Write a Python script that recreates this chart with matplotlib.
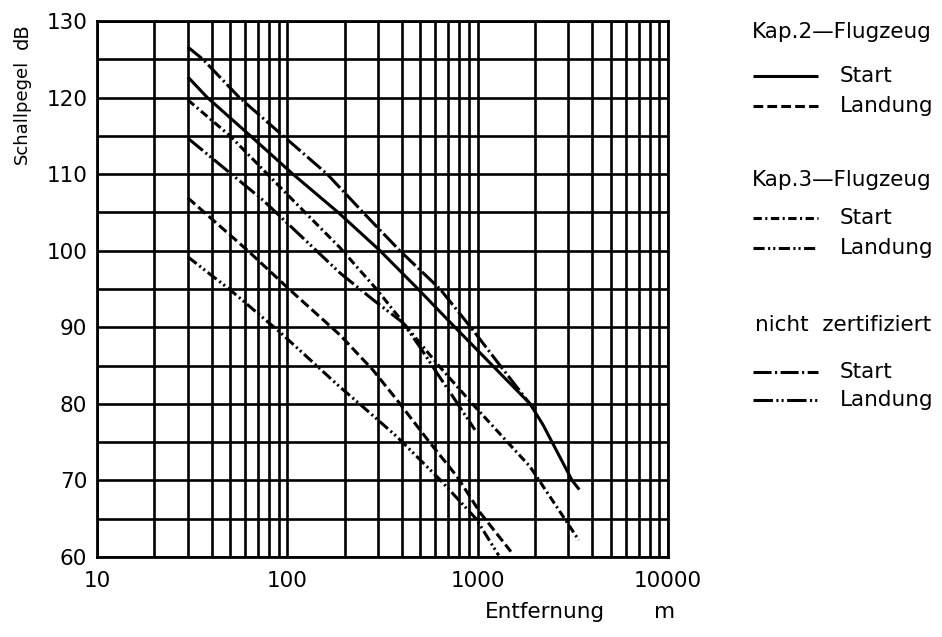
import matplotlib
matplotlib.use("Agg")
import matplotlib.pyplot as plt
from matplotlib.lines import Line2D
from matplotlib.ticker import LogLocator, MultipleLocator, FixedLocator, NullFormatter

plt.rcParams['font.family'] = ['DejaVu Sans']
plt.rcParams['lines.scale_dashes'] = False

# Distance (m) and sound level (dB) for each aircraft class / flight phase
kap2_start_x = [30, 38, 64, 107, 185, 307, 486, 760, 1885, 2200, 2460, 3135, 3420]
kap2_start_y = [122.7, 120, 115, 110, 105, 100, 95, 90, 80, 77.3, 75, 70, 68.8]

kap2_land_x = [30, 61.4, 103, 189, 282, 377, 562, 780, 1030, 1496]
kap2_land_y = [106.9, 100.1, 94.9, 89.0, 84.4, 80.5, 74.9, 70.5, 65.8, 60.7]

kap3_start_x = [30, 50, 107, 189, 296, 425, 634, 946, 1884, 3400]
kap3_start_y = [119.7, 115, 106.6, 100.4, 94.9, 90, 84.8, 79.9, 71.8, 62.2]

kap3_land_x = [30, 50, 92, 189, 250, 377, 634, 980, 1290]
kap3_land_y = [99.2, 94.9, 89.3, 82.2, 79.6, 75.7, 70.1, 65.0, 60.2]

nz_start_x = [30, 36, 56, 95, 162, 250, 390, 634, 920, 1312, 1950]
nz_start_y = [126.6, 125, 120, 115, 110, 105, 100, 95, 90, 85, 79.5]

nz_land_x = [30, 74.5, 189, 282, 405, 498, 612, 716, 968]
nz_land_y = [114.7, 106.6, 97.1, 93.6, 90.6, 87.4, 84.0, 81.5, 76.6]

x_ticks = [10, 100, 1000, 10000]
x_tick_labels = ["10", "100", "1000", "10000"]
y_ticks = [60, 70, 80, 90, 100, 110, 120, 130]

groups = ["Kap.2\u2014Flugzeug", "Kap.3\u2014Flugzeug", "nicht  zertifiziert"]
phases = ["Start", "Landung"]

# line styles (dash patterns in points)
ls_solid = '-'
ls_dash = (0, (7, 3))
ls_dashdot = (0, (6, 2.5, 1.5, 2.5))
ls_dashdotdot = (0, (8, 2.5, 1.5, 2.2, 1.5, 2.5))
ls_longdashdot = (0, (13, 2.5, 1.5, 2.5))
ls_longdashdotdot = (0, (14, 2.5, 1.5, 2.2, 1.5, 2.5))

W, H = 942, 637
fig = plt.figure(figsize=(W / 100, H / 100), dpi=100)
fig.patch.set_facecolor('white')

def fx(px):
    return px / W

def fy(py):
    return 1 - py / H

left, right, top, bottom = 97, 668, 21, 557
ax = fig.add_axes([fx(left), fy(bottom), fx(right) - fx(left), fy(top) - fy(bottom)])

ax.set_xscale('log')
ax.set_xlim(10, 10000)
ax.set_ylim(60, 130)

ax.xaxis.set_major_locator(FixedLocator(x_ticks))
ax.set_xticklabels(x_tick_labels)
ax.xaxis.set_minor_locator(LogLocator(base=10, subs=range(2, 10), numticks=20))
ax.xaxis.set_minor_formatter(NullFormatter())
ax.yaxis.set_major_locator(FixedLocator(y_ticks))
ax.yaxis.set_minor_locator(MultipleLocator(5))

ax.grid(which='both', color='black', linewidth=1.9)
ax.set_axisbelow(True)
ax.tick_params(which='both', length=0, labelsize=15.5)
ax.tick_params(axis='x', pad=10)
ax.tick_params(axis='y', pad=7)
for s in ax.spines.values():
    s.set_linewidth(2.0)
    s.set_color('black')

lw = 2.2
curves = [
    (kap2_start_x, kap2_start_y, ls_solid),
    (kap2_land_x, kap2_land_y, ls_dash),
    (kap3_start_x, kap3_start_y, ls_dashdot),
    (kap3_land_x, kap3_land_y, ls_dashdotdot),
    (nz_start_x, nz_start_y, ls_longdashdot),
    (nz_land_x, nz_land_y, ls_longdashdotdot),
]
for xs, ys, ls in curves:
    ax.plot(xs, ys, color='black', linewidth=lw, linestyle=ls,
            solid_capstyle='butt', dash_capstyle='butt', zorder=3)

# axis titles
fig.text(fx(22), fy(112), "Schallpegel", rotation=90, ha='center', va='center', fontsize=13)
fig.text(fx(22), fy(36), "dB", rotation=90, ha='center', va='center', fontsize=14)
fig.text(fx(545), fy(612), "Entfernung", ha='center', va='center', fontsize=15.5)
fig.text(fx(665), fy(612), "m", ha='center', va='center', fontsize=15.5)

# legend
header_y = [32, 180, 325]
header_x = [752, 752, 755]
entry_y = [(76, 106), (218, 248), (372, 400)]
entry_styles = [(ls_solid, ls_dash), (ls_dashdot, ls_dashdotdot),
                (ls_longdashdot, ls_longdashdotdot)]
for g, hx, hy, ys, sts in zip(groups, header_x, header_y, entry_y, entry_styles):
    fig.text(fx(hx), fy(hy), g, ha='left', va='center', fontsize=15.5)
    for ph, yy, st in zip(phases, ys, sts):
        fig.add_artist(Line2D([fx(753), fx(818)], [fy(yy), fy(yy)], transform=fig.transFigure,
                              color='black', linewidth=lw, linestyle=st,
                              solid_capstyle='butt', dash_capstyle='butt'))
        fig.text(fx(840), fy(yy), ph, ha='left', va='center', fontsize=15.5)

fig.savefig("out.png", dpi=100, facecolor='white')
